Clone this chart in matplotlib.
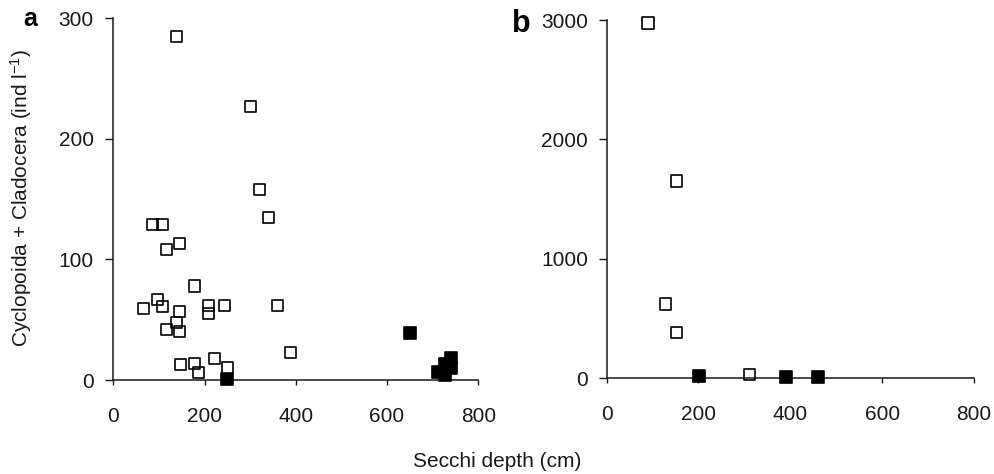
import matplotlib.pyplot as plt

plt.rcParams['font.family'] = ['Liberation Sans', 'DejaVu Sans']
plt.rcParams['mathtext.default'] = 'regular'

# panel a: Secchi depth (cm) vs Cyclopoida + Cladocera (ind/l)
a_open_x = [138, 300, 320, 340, 86, 108, 117, 146, 177, 67, 97, 108, 146, 139,
            117, 146, 209, 209, 243, 359, 389, 148, 178, 187, 221, 250]
a_open_y = [285, 227, 158, 135, 129, 129, 108, 113, 78, 59, 67, 61, 57, 48,
            42, 40, 62, 55, 62, 62, 23, 13, 14, 6, 18, 10]
a_filled_x = [250, 650, 711, 727, 740, 740, 728]
a_filled_y = [1, 39, 7, 13, 18, 10, 4]

# panel b
b_open_x = [90, 152, 129, 152, 311]
b_open_y = [2975, 1652, 622, 382, 33]
b_filled_x = [202, 391, 461]
b_filled_y = [20, 8, 8]

x_ticks = [0, 200, 400, 600, 800]
a_y_ticks = [0, 100, 200, 300]
b_y_ticks = [0, 1000, 2000, 3000]

ink = '#1a1a1a'
fs = 15

fig = plt.figure(figsize=(9.95, 4.74), dpi=100)
ax_a = fig.add_axes([0.1139, 0.1983, 0.3668, 0.7631])
ax_b = fig.add_axes([0.6097, 0.2019, 0.3692, 0.7559])


def style(ax, yticks, ypad):
    for side in ('top', 'right'):
        ax.spines[side].set_visible(False)
    for side in ('left', 'bottom'):
        ax.spines[side].set_color(ink)
        ax.spines[side].set_linewidth(1.1)
    ax.set_xlim(0, 800)
    ax.set_ylim(yticks[0], yticks[-1])
    ax.set_xticks(x_ticks)
    ax.set_yticks(yticks)
    ax.tick_params(axis='x', direction='out', length=3.6, width=1, pad=15.5,
                   labelsize=fs, colors=ink)
    ax.tick_params(axis='y', direction='out', length=5.8, width=1, pad=ypad,
                   labelsize=fs, colors=ink)


def squares(ax, ox, oy, fx, fy):
    ax.scatter(ox, oy, s=64, marker='s', facecolors='none', edgecolors='black',
               linewidths=1.2, clip_on=False, zorder=3)
    ax.scatter(fx, fy, s=64, marker='s', facecolors='black', edgecolors='black',
               linewidths=1.2, clip_on=False, zorder=3)


style(ax_a, a_y_ticks, 8.4)
style(ax_b, b_y_ticks, 7.6)
squares(ax_a, a_open_x, a_open_y, a_filled_x, a_filled_y)
squares(ax_b, b_open_x, b_open_y, b_filled_x, b_filled_y)

ax_a.set_ylabel('Cyclopoida + Cladocera (ind l$^{-1}$)', fontsize=fs,
                color=ink, va='center')
ax_a.yaxis.set_label_coords(-0.253, 0.504)
fig.text(0.5, 0.0148, 'Secchi depth (cm)', ha='center', va='baseline',
         fontsize=fs, color=ink)

# panel letters
fig.text(23 / 995, 1 - 26 / 474, 'a', fontsize=18, fontweight='bold',
         ha='left', va='baseline')
fig.text(512 / 995, 1 - 31.7 / 474, 'b', fontsize=22, fontweight='bold',
         ha='left', va='baseline')

fig.savefig('out.png', dpi=100)
